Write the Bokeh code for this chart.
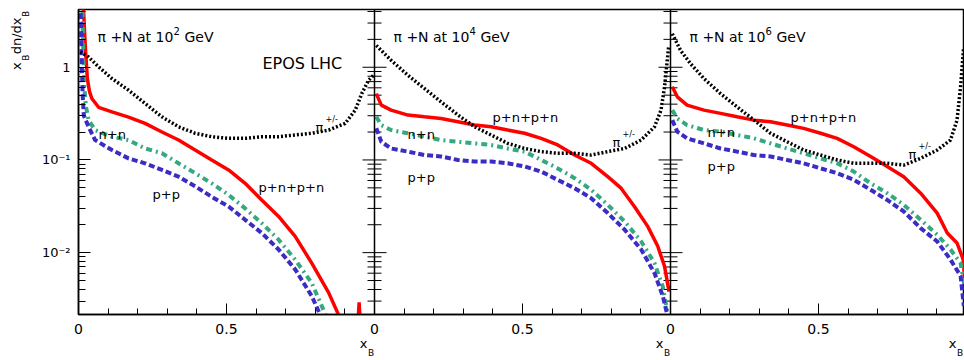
import math

from bokeh.plotting import figure
from bokeh.models import (Range1d, FixedTicker, Span, Label, LinearAxis, LogAxis,
                          CustomJSTickFormatter)
from bokeh.embed import file_html
from bokeh.resources import INLINE

# ---------------------------------------------------------------- data
# x_B dn/dx_B of secondary nucleons and charged pions, EPOS LHC, pi+N

ENERGY_EXPONENTS = ["2", "4", "6"]

# 10^2 GeV
X_PNPN_1 = [0.015, 0.02, 0.025, 0.03, 0.037, 0.045, 0.068, 0.113, 0.169, 0.225, 0.282, 0.338,
            0.394, 0.45, 0.507, 0.563, 0.619, 0.676, 0.732, 0.788, 0.845, 0.878, 0.9, 0.94,
            0.948, 0.956]
Y_PNPN_1 = [6.0, 2.6, 1.3, 0.75, 0.55, 0.46, 0.37, 0.33, 0.29, 0.248, 0.2, 0.164,
            0.128, 0.1, 0.078, 0.056, 0.037, 0.0246, 0.015, 0.0077, 0.0037, 0.00215, 0.001, 0.001,
            0.0029, 0.001]
X_NN_1 = [0.012, 0.016, 0.02, 0.025, 0.034, 0.056, 0.113, 0.169, 0.225, 0.282, 0.338, 0.394,
          0.45, 0.507, 0.563, 0.619, 0.676, 0.732, 0.788, 0.833, 0.85]
Y_NN_1 = [6.0, 1.5, 0.6, 0.38, 0.27, 0.21, 0.178, 0.164, 0.133, 0.118, 0.092, 0.072,
          0.056, 0.042, 0.030, 0.0208, 0.0138, 0.0084, 0.0047, 0.0022, 0.0015]
X_PP_1 = [0.006, 0.01, 0.014, 0.018, 0.034, 0.056, 0.113, 0.169, 0.225, 0.282, 0.338, 0.394,
          0.45, 0.507, 0.563, 0.619, 0.676, 0.732, 0.788, 0.816, 0.83]
Y_PP_1 = [6.0, 1.5, 0.5, 0.3, 0.228, 0.164, 0.128, 0.104, 0.092, 0.078, 0.066, 0.052,
          0.040, 0.0315, 0.0226, 0.0163, 0.0108, 0.0066, 0.0034, 0.00215, 0.0015]
X_PI_1 = [0.006, 0.034, 0.068, 0.113, 0.169, 0.225, 0.282, 0.338, 0.394, 0.45, 0.507, 0.563,
          0.619, 0.676, 0.732, 0.788, 0.845, 0.901, 0.935, 0.957, 0.98, 0.997]
Y_PI_1 = [1.46, 1.29, 1.01, 0.755, 0.566, 0.407, 0.292, 0.228, 0.194, 0.178, 0.171, 0.171,
          0.178, 0.178, 0.186, 0.194, 0.21, 0.248, 0.345, 0.52, 0.725, 0.82]

# 10^4 GeV
X_PNPN_2 = [0.006, 0.023, 0.056, 0.113, 0.169, 0.225, 0.282, 0.338, 0.394, 0.45, 0.507, 0.563,
            0.619, 0.676, 0.732, 0.788, 0.833, 0.878, 0.923, 0.957, 0.98, 0.995]
Y_PNPN_2 = [0.52, 0.39, 0.345, 0.305, 0.292, 0.28, 0.258, 0.238, 0.228, 0.21, 0.194, 0.171,
            0.145, 0.113, 0.092, 0.066, 0.0496, 0.0315, 0.0192, 0.0117, 0.0071, 0.0038]
X_NN_2 = [0.006, 0.023, 0.056, 0.113, 0.169, 0.225, 0.282, 0.338, 0.394, 0.45, 0.507, 0.563,
          0.619, 0.676, 0.732, 0.788, 0.845, 0.901, 0.946, 0.974, 0.991, 0.997]
Y_NN_2 = [0.292, 0.238, 0.21, 0.194, 0.178, 0.164, 0.157, 0.151, 0.145, 0.133, 0.123, 0.1,
          0.081, 0.0636, 0.0476, 0.0328, 0.0217, 0.0132, 0.0077, 0.0043, 0.00215, 0.0012]
X_PP_2 = [0.006, 0.023, 0.056, 0.113, 0.169, 0.225, 0.282, 0.338, 0.394, 0.45, 0.507, 0.563,
          0.619, 0.676, 0.732, 0.788, 0.845, 0.901, 0.946, 0.974, 0.989, 0.996]
Y_PP_2 = [0.22, 0.157, 0.133, 0.123, 0.113, 0.109, 0.1, 0.096, 0.096, 0.092, 0.085, 0.075,
          0.061, 0.0496, 0.0387, 0.0267, 0.0177, 0.0108, 0.006, 0.0034, 0.00215, 0.0012]
X_PI_2 = [0.006, 0.056, 0.113, 0.169, 0.225, 0.282, 0.338, 0.394, 0.45, 0.507, 0.563, 0.619,
          0.676, 0.732, 0.788, 0.845, 0.901, 0.946, 0.968, 0.98, 0.989, 0.994]
Y_PI_2 = [1.72, 1.19, 0.82, 0.59, 0.424, 0.305, 0.228, 0.186, 0.151, 0.133, 0.123, 0.118,
          0.118, 0.113, 0.123, 0.133, 0.164, 0.228, 0.345, 0.615, 1.19, 1.7]

# 10^6 GeV
X_PNPN_3 = [0.006, 0.023, 0.056, 0.113, 0.169, 0.225, 0.282, 0.338, 0.394, 0.45, 0.507, 0.563,
            0.619, 0.676, 0.732, 0.788, 0.845, 0.901, 0.935, 0.968, 0.989, 0.996]
Y_PNPN_3 = [0.615, 0.48, 0.39, 0.345, 0.318, 0.292, 0.269, 0.258, 0.238, 0.219, 0.194, 0.171,
            0.139, 0.109, 0.085, 0.066, 0.0438, 0.0267, 0.0163, 0.0127, 0.0084, 0.0045]
X_NN_3 = [0.006, 0.023, 0.056, 0.113, 0.169, 0.225, 0.282, 0.338, 0.394, 0.45, 0.507, 0.563,
          0.619, 0.676, 0.732, 0.788, 0.845, 0.901, 0.946, 0.98, 0.993]
Y_NN_3 = [0.345, 0.28, 0.238, 0.21, 0.202, 0.186, 0.171, 0.151, 0.133, 0.118, 0.104, 0.092,
          0.075, 0.056, 0.0438, 0.0328, 0.0226, 0.0156, 0.0108, 0.0077, 0.0044]
X_PP_3 = [0.006, 0.023, 0.056, 0.113, 0.169, 0.225, 0.282, 0.338, 0.394, 0.45, 0.507, 0.563,
          0.619, 0.676, 0.732, 0.788, 0.845, 0.901, 0.946, 0.98, 0.991]
Y_PP_3 = [0.269, 0.202, 0.171, 0.151, 0.133, 0.123, 0.113, 0.109, 0.1, 0.092, 0.081, 0.072,
          0.061, 0.0476, 0.037, 0.0278, 0.0184, 0.0132, 0.0084, 0.0056, 0.00265]
X_PI_3 = [0.006, 0.034, 0.068, 0.113, 0.169, 0.225, 0.282, 0.338, 0.394, 0.45, 0.507, 0.563,
          0.619, 0.676, 0.732, 0.788, 0.845, 0.901, 0.946, 0.968, 0.98, 0.99]
Y_PI_3 = [2.3, 1.52, 1.09, 0.755, 0.52, 0.374, 0.269, 0.194, 0.157, 0.128, 0.113, 0.1,
          0.092, 0.092, 0.092, 0.088, 0.104, 0.128, 0.164, 0.269, 0.615, 1.6]

Y_MAJOR = [0.01, 0.1, 1.0]
Y_MAJOR_LABELS = ["10\u207b\u00b2", "10\u207b\u00b9", "1"]
Y_MINOR = [m * 10.0 ** e for e in (-3, -2, -1, 0) for m in range(2, 10)]
X_MAJOR_STEP = 0.5
X_MINOR_STEP = 0.1

# ---------------------------------------------------------------- layout
FONT = "DejaVu Sans"
W, H = 964, 360
LEFT, TOP, BOTTOM = 78, 9, 44
PANEL_PX = 296                 # pixels per unit of x_B in every panel
N_PANELS = 3
Y_MIN, Y_MAX = 0.00215, 4.2
PX_PER_DECADE = (H - TOP - BOTTOM) / (math.log10(Y_MAX) - math.log10(Y_MIN))

RED, GREEN, BLUE = "#ff0000", "#34a97f", "#3a2cc4"


def y_at(py):
    """Data value found at canvas row py."""
    return 10 ** (math.log10(Y_MAX) - (py - TOP) / PX_PER_DECADE)


def x_at(px):
    """Data x found at canvas column px."""
    return (px - LEFT) / PANEL_PX


def lookup(ticks, labels):
    return CustomJSTickFormatter(args=dict(ts=list(ticks), ls=list(labels)), code="""
        let best = 0;
        for (let i = 1; i < ts.length; i++)
            if (Math.abs(ts[i] - tick) < Math.abs(ts[best] - tick)) best = i;
        return ls[best];
    """)


def quiet(axis):
    axis.axis_line_color = None
    axis.major_tick_line_color = None
    axis.minor_tick_line_color = None
    axis.major_tick_in = axis.major_tick_out = 0
    axis.minor_tick_in = axis.minor_tick_out = 0
    axis.major_label_text_font = FONT
    axis.major_label_text_color = "black"


p = figure(width=W, height=H,
           x_range=Range1d(0, (W - LEFT) / PANEL_PX),
           y_range=Range1d(Y_MIN, Y_MAX), y_axis_type="log",
           output_backend="svg", toolbar_location=None,
           min_border_left=LEFT, min_border_right=0,
           min_border_top=TOP, min_border_bottom=BOTTOM)
p.grid.visible = False
p.background_fill_color = "white"
p.border_fill_color = "white"
p.outline_line_color = "black"
p.outline_line_width = 1.5

# x axis: the three panels share one axis, labels restart at 0 in each
x_major = [k + i * X_MAJOR_STEP for k in range(N_PANELS) for i in range(2)]
x_minor = [k + i * X_MINOR_STEP for k in range(N_PANELS) for i in range(10)]
xa = p.xaxis[0]
xa.ticker = FixedTicker(ticks=x_major, minor_ticks=x_minor)
xa.formatter = CustomJSTickFormatter(code="""
    const f = tick - Math.floor(tick + 1e-6);
    return Math.abs(f - 0.5) < 1e-6 ? '0.5' : '0';
""")
xa.major_label_text_font = FONT
xa.major_label_text_font_size = "14px"
xa.major_label_text_color = "black"
xa.major_label_standoff = 9
xa.major_tick_in, xa.major_tick_out = 11, 0
xa.minor_tick_in, xa.minor_tick_out = 6, 0
xa.axis_line_color = "black"
xa.axis_line_width = 1.5
xa.major_tick_line_color = "black"
xa.minor_tick_line_color = "black"

ya = p.yaxis[0]
ya.ticker = FixedTicker(ticks=Y_MAJOR, minor_ticks=Y_MINOR)
ya.formatter = lookup(Y_MAJOR, Y_MAJOR_LABELS)
ya.major_label_text_font = FONT
ya.major_label_text_font_size = "13px"
ya.major_label_text_color = "black"
ya.major_label_standoff = 8
ya.major_tick_in, ya.major_tick_out = 12, 0
ya.minor_tick_in, ya.minor_tick_out = 7, 0
ya.axis_line_color = "black"
ya.axis_line_width = 1.5
ya.major_tick_line_color = "black"
ya.minor_tick_line_color = "black"

# y title x_B dn/dx_B: main letters and subscripts on two label-only axes
sub_ticks = [y_at(57.5), y_at(13.5)]
ysub = LogAxis(ticker=FixedTicker(ticks=sub_ticks, minor_ticks=[]),
               formatter=lookup(sub_ticks, ["B", "B"]))
quiet(ysub)
ysub.major_label_text_font_size = "9px"
ysub.major_label_orientation = "vertical"
ysub.major_label_standoff = 7
p.add_layout(ysub, "left")

main_ticks = [y_at(66), y_at(35.5)]
ymain = LogAxis(ticker=FixedTicker(ticks=main_ticks, minor_ticks=[]),
                formatter=lookup(main_ticks, ["x", "dn/dx"]))
quiet(ymain)
ymain.major_label_text_font_size = "13px"
ymain.major_label_orientation = "vertical"
ymain.major_label_standoff = -6
p.add_layout(ymain, "left")

# x title x_B at the lower right corner of every panel
shift = [0, 0, -3]
xt_ticks = [k + 1 + x_at(LEFT - 11 + shift[k]) for k in range(N_PANELS)]
xb_ticks = [k + 1 + x_at(LEFT - 3.5 + shift[k]) for k in range(N_PANELS)]
xtitle = LinearAxis(ticker=FixedTicker(ticks=xt_ticks, minor_ticks=[]),
                    formatter=lookup(xt_ticks, ["x"] * N_PANELS))
quiet(xtitle)
xtitle.major_label_text_font_size = "13px"
xtitle.major_label_standoff = -1
p.add_layout(xtitle, "below")
xsub = LinearAxis(ticker=FixedTicker(ticks=xb_ticks, minor_ticks=[]),
                  formatter=lookup(xb_ticks, ["B"] * N_PANELS))
quiet(xsub)
xsub.major_label_text_font_size = "9px"
xsub.major_label_standoff = -6
p.add_layout(xsub, "below")

# panel separators with inward ticks on both sides
for k in range(1, N_PANELS):
    p.add_layout(Span(location=k, dimension="height", line_color="black", line_width=1.5))
    for ticks, length in ((Y_MAJOR, 12), (Y_MINOR, 7)):
        vals = [t for t in ticks if Y_MIN <= t <= Y_MAX]
        d = length / PANEL_PX
        p.segment(x0=[k - d] * len(vals), x1=[k + d] * len(vals), y0=vals, y1=vals,
                  line_color="black", line_width=1)

# ---------------------------------------------------------------- curves
PANELS = [
    [(X_PNPN_1, Y_PNPN_1), (X_NN_1, Y_NN_1), (X_PP_1, Y_PP_1), (X_PI_1, Y_PI_1)],
    [(X_PNPN_2, Y_PNPN_2), (X_NN_2, Y_NN_2), (X_PP_2, Y_PP_2), (X_PI_2, Y_PI_2)],
    [(X_PNPN_3, Y_PNPN_3), (X_NN_3, Y_NN_3), (X_PP_3, Y_PP_3), (X_PI_3, Y_PI_3)],
]
STYLES = [
    dict(line_color=RED, line_width=3.5),
    dict(line_color=GREEN, line_width=4, line_dash="6 4 2 4"),
    dict(line_color=BLUE, line_width=4, line_dash="6 3"),
    dict(line_color="black", line_width=3.5, line_dash="2 2"),
]
for k, panel in enumerate(PANELS):
    for (xs, ys), style in zip(panel, STYLES):
        p.line([x + k for x in xs], ys, **style)


# ---------------------------------------------------------------- text in the panels
def put(text, px, py, size):
    """Place a text label with its left baseline point at canvas pixel (px, py)."""
    p.add_layout(Label(x=x_at(px), y=y_at(py), text=text, text_font=FONT,
                       text_font_size=f"{size}px", text_color="black",
                       text_align="left", text_baseline="alphabetic"))


CURVE_LABELS = [
    [("p+n+p+n", 180, 188), ("n+n", 20, 135), ("p+p", 74, 195)],
    [("p+n+p+n", 118, 118), ("n+n", 33, 135), ("p+p", 33, 178)],
    [("p+n+p+n", 120, 118), ("n+n", 37, 133), ("p+p", 37, 167)],
]
PION_LABEL = [(237, 128), (238, 143), (238, 155)]

for k in range(N_PANELS):
    x0 = LEFT + k * PANEL_PX
    put("\u03c0 +N at 10", x0 + 19, 37, 14)
    put(ENERGY_EXPONENTS[k], x0 + 95, 31, 10)
    put("GeV", x0 + 106, 37, 14)
    for text, dx, py in CURVE_LABELS[k]:
        put(text, x0 + dx, py, 13)
    dx, py = PION_LABEL[k]
    put("\u03c0", x0 + dx, py, 13)
    put("+/-", x0 + dx + 10, py - 8, 8)

put("EPOS LHC", 262, 63, 16)

open("out.html", "w").write(file_html(p, INLINE))
